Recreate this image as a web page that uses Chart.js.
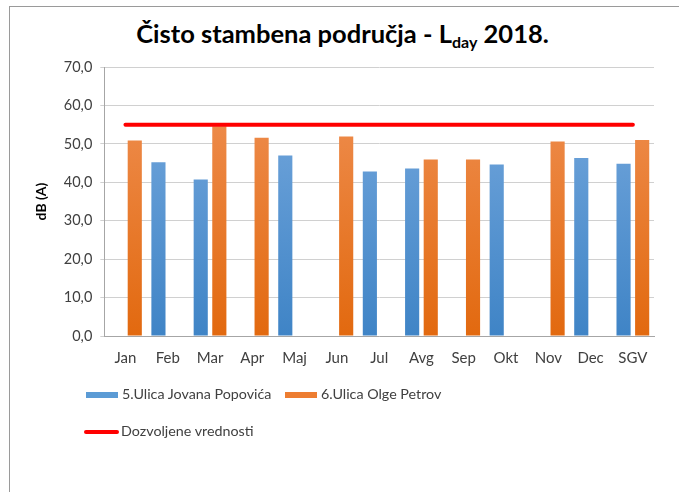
<!DOCTYPE html>
<html>
<head>
<meta charset="utf-8">
<script src="https://cdn.jsdelivr.net/npm/chart.js@4"></script>
<style>
  body { margin: 0; background: #fff; }
  #wrap { position: relative; width: 679px; height: 492px; overflow: hidden; font-family: Lato, sans-serif; }
  #frame { position: absolute; left: 9px; top: 6px; width: 700px; height: 600px; border-left: 1px solid #9a9a9a; border-top: 1px solid #9a9a9a; }
  #title { position: absolute; left: 0; width: 685px; top: 18px; text-align: center; font-weight: bold; font-size: 25.5px; color: #000; }
  #title sub { font-size: 16px; vertical-align: -5px; line-height: 0; }
  canvas { position: absolute; left: 0; top: 0; }
  .leg { position: absolute; font-size: 14.3px; color: #404040; white-space: nowrap; }
  .leg span.box { display: inline-block; width: 32px; height: 6px; margin-right: 4px; vertical-align: middle; }
  .leg span.line { display: inline-block; width: 35px; height: 4px; border-radius: 2px; margin-right: 2px; vertical-align: middle; }
</style>
</head>
<body>
<div id="wrap">
  <div id="frame"></div>
  <div id="title">Čisto stambena područja - L<sub>day</sub> 2018.</div>
  <canvas id="c" width="679" height="492"></canvas>
  <div id="legend"></div>
</div>
<script>
const months = ['Jan', 'Feb', 'Mar', 'Apr', 'Maj', 'Jun', 'Jul', 'Avg', 'Sep', 'Okt', 'Nov', 'Dec', 'SGV'];
const jovanaPopovica = [null, 45.2, 40.7, null, 47.0, null, 42.8, 43.6, null, 44.6, null, 46.3, 44.8];
const olgePetrov = [50.9, null, 54.6, 51.6, null, 51.9, null, 45.9, 45.9, null, 50.6, null, 51.0];
const dozvoljene = [55, 55, 55, 55, 55, 55, 55, 55, 55, 55, 55, 55, 55];
const seriesNames = ['5.Ulica Jovana Popovića', '6.Ulica Olge Petrov', 'Dozvoljene vrednosti'];

// vertical gradient fill like the Excel bars
function grad(top, bottom) {
    return function (context) {
        const area = context.chart.chartArea;
        if (!area) return bottom;
        const g = context.chart.ctx.createLinearGradient(0, area.top, 0, area.bottom);
        g.addColorStop(0, top);
        g.addColorStop(1, bottom);
        return g;
    };
}

const ctx = document.getElementById('c').getContext('2d');
const chart = new Chart(ctx, {
    type: 'bar',
    data: {
        labels: months,
        datasets: [
            {
                label: seriesNames[0],
                data: jovanaPopovica,
                backgroundColor: grad('#7aabdf', '#3f84c6'),
                legendColor: '#5b9bd5',
                categoryPercentage: 0.88,
                barPercentage: 0.76,
                order: 2
            },
            {
                label: seriesNames[1],
                data: olgePetrov,
                backgroundColor: grad('#f09257', '#e2690f'),
                legendColor: '#ed7d31',
                categoryPercentage: 0.88,
                barPercentage: 0.76,
                order: 2
            },
            {
                type: 'line',
                label: seriesNames[2],
                data: dozvoljene,
                borderColor: '#ff0000',
                legendColor: '#ff0000',
                borderWidth: 4,
                borderCapStyle: 'round',
                pointRadius: 0,
                order: 1
            }
        ]
    },
    options: {
        responsive: false,
        animation: false,
        layout: { padding: { top: 67, right: 25, bottom: 120, left: 33 } },
        plugins: {
            legend: { display: false },
            title: { display: false },
            tooltip: { enabled: false }
        },
        scales: {
            x: {
                grid: { display: false },
                border: { color: '#a6a6a6' },
                ticks: { color: '#404040', font: { family: 'Lato', size: 15 }, padding: 5 }
            },
            y: {
                min: 0,
                max: 70,
                ticks: {
                    stepSize: 10,
                    color: '#404040',
                    font: { family: 'Lato', size: 14.5 },
                    padding: 8,
                    callback: v => v.toFixed(1).replace('.', ',')
                },
                grid: { color: '#d0d0d0', tickLength: 4 },
                border: { color: '#a6a6a6' },
                title: {
                    display: true,
                    text: 'dB (A)',
                    color: '#000',
                    font: { family: 'Lato', size: 14, weight: 'bold' },
                    padding: { top: 0, bottom: 6 }
                }
            }
        }
    }
});

// html legend built from the datasets
const legendPos = [[86, 385, 'box'], [285, 385, 'box'], [84, 422, 'line']];
const legendEl = document.getElementById('legend');
chart.data.datasets.forEach((ds, i) => {
    const p = legendPos[i];
    const item = document.createElement('div');
    item.className = 'leg';
    item.style.left = p[0] + 'px';
    item.style.top = p[1] + 'px';
    const mark = document.createElement('span');
    mark.className = p[2];
    mark.style.background = ds.legendColor;
    item.appendChild(mark);
    item.appendChild(document.createTextNode(ds.label));
    legendEl.appendChild(item);
});
</script>
</body>
</html>
